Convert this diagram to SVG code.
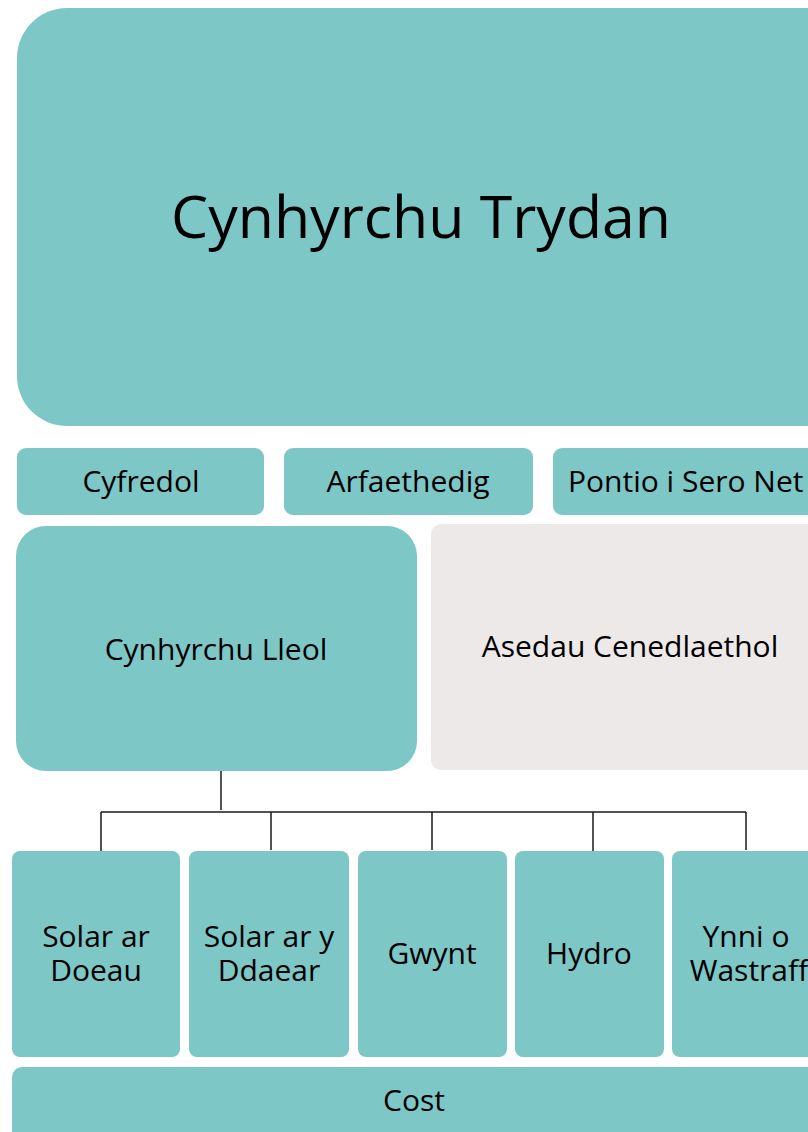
<svg xmlns="http://www.w3.org/2000/svg" width="808" height="1132" viewBox="0 0 808 1132">
  <style>
    .teal { fill: #7DC7C7; }
    .grey { fill: #EEE9E9; }
    text { font-family: "Open Sans", "Noto Sans", sans-serif; fill: #000; text-anchor: middle; }
    .t30 { font-size: 30px; }
    .conn { stroke: #1a1a1a; stroke-width: 1.5; fill: none; }
  </style>

  <!-- top-level heading -->
  <g id="node-trydan">
    <rect class="teal" x="17" y="8" width="840" height="418" rx="50" ry="50"/>
    <text x="421" y="238" style="font-size:59px">Cynhyrchu Trydan</text>
  </g>

  <!-- time-horizon row -->
  <g id="node-cyfredol">
    <rect class="teal" x="17" y="448" width="247" height="67" rx="9" ry="9"/>
    <text class="t30" x="141" y="492">Cyfredol</text>
  </g>
  <g id="node-arfaethedig">
    <rect class="teal" x="284" y="448" width="249" height="67" rx="9" ry="9"/>
    <text class="t30" x="408" y="492">Arfaethedig</text>
  </g>
  <g id="node-pontio">
    <rect class="teal" x="553" y="448" width="300" height="67" rx="9" ry="9"/>
    <text class="t30" x="568" y="492" style="text-anchor:start">Pontio i Sero Net</text>
  </g>

  <!-- generation scale -->
  <g id="node-lleol">
    <rect class="teal" x="16" y="526" width="401" height="245" rx="30" ry="30"/>
    <text class="t30" x="216" y="660">Cynhyrchu Lleol</text>
  </g>
  <g id="node-cenedlaethol">
    <rect class="grey" x="431" y="524" width="420" height="246" rx="10" ry="10"/>
    <text class="t30" x="630" y="657">Asedau Cenedlaethol</text>
  </g>

  <!-- tree connectors -->
  <g id="connectors">
    <path class="conn" d="M221,771 V810"/>
    <path class="conn" d="M101,812 H746"/>
    <path class="conn" d="M101,812 V851 M271,812 V850 M432,812 V850 M593,812 V851 M746,812 V850"/>
  </g>

  <!-- local technologies -->
  <g id="node-solar-toeau">
    <rect class="teal" x="12" y="851" width="168" height="206" rx="8" ry="8"/>
    <text class="t30" x="96" y="947">Solar ar</text>
    <text class="t30" x="96" y="981">Doeau</text>
  </g>
  <g id="node-solar-daear">
    <rect class="teal" x="189" y="851" width="160" height="206" rx="8" ry="8"/>
    <text class="t30" x="269" y="947">Solar ar y</text>
    <text class="t30" x="269" y="981">Ddaear</text>
  </g>
  <g id="node-gwynt">
    <rect class="teal" x="358" y="851" width="149" height="206" rx="8" ry="8"/>
    <text class="t30" x="432" y="964">Gwynt</text>
  </g>
  <g id="node-hydro">
    <rect class="teal" x="515" y="851" width="149" height="206" rx="8" ry="8"/>
    <text class="t30" x="589" y="964">Hydro</text>
  </g>
  <g id="node-gwastraff">
    <rect class="teal" x="672" y="851" width="160" height="206" rx="8" ry="8"/>
    <text class="t30" x="746" y="947">Ynni o</text>
    <text class="t30" x="749" y="981">Wastraff</text>
  </g>

  <!-- cost band -->
  <g id="node-cost">
    <rect class="teal" x="12" y="1067" width="840" height="100" rx="10" ry="10"/>
    <text class="t30" x="414" y="1111">Cost</text>
  </g>
</svg>
